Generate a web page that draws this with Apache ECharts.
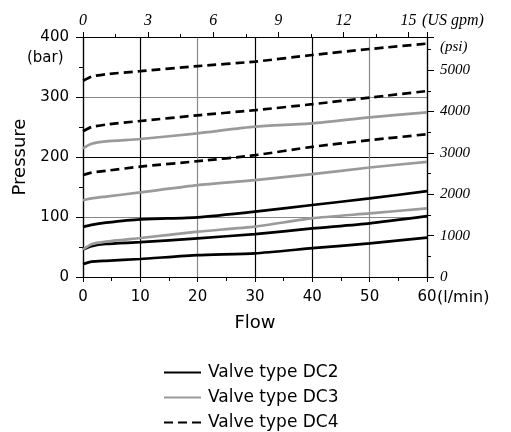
<!DOCTYPE html>
<html>
<head>
<meta charset="utf-8">
<script src="https://cdn.jsdelivr.net/npm/echarts@6/dist/echarts.min.js"></script>
<style>html,body{margin:0;padding:0;background:#fff;}#c{width:511px;height:432px;}</style>
</head>
<body>
<div id="c"></div>
<script>
// Flow (l/min) sample points
var flow = [0, 1.5, 4, 10, 20, 30, 40, 50, 60];
// Pressure (bar) curves
var dc2Low  = [21.5, 25.5, 27, 30, 36.5, 39.5, 48, 56, 65.5];
var dc2Mid  = [46, 51.5, 55, 58, 64.5, 71.5, 81, 89.5, 101.5];
var dc2High = [83.5, 87, 90.5, 96, 99.5, 109, 120, 131, 143];
var dc3Low  = [46, 54.5, 59, 65, 75.5, 84, 98, 106, 114.5];
var dc3Mid  = [128, 131, 134, 141, 153, 161.5, 171.5, 182.5, 192];
var dc3High = [214.5, 222, 226, 230, 239.5, 250.5, 256, 266, 274.5];
var dc4Low  = [170, 174, 177, 184, 193, 203, 217, 228, 238];
var dc4Mid  = [243, 250, 254, 260, 269.5, 278, 288, 299, 310];
var dc4High = [327, 334, 338, 343, 351.5, 359, 370, 380, 389];
var seriesNames = ['Valve type DC2', 'Valve type DC3', 'Valve type DC4'];

var FLOW_MAX = 60, BAR_MAX = 400;
var GPM_PER_LPM = 1 / 3.78541, PSI_PER_BAR = 14.5038;

function pts(ys) { return flow.map(function (x, i) { return [x, ys[i]]; }); }

var sans = 'DejaVu Sans';
var serif = 'Liberation Serif';

function mk(name, ys, type) {
  var gray = type === 'DC3';
  return {
    name: name, type: 'line', data: pts(ys), symbol: 'none',
    smooth: 0.2,
    xAxisIndex: 0, yAxisIndex: 0,
    lineStyle: { color: gray ? '#9a9a9a' : '#000', width: 2.7, type: type === 'DC4' ? [9, 5] : 'solid' },
    itemStyle: { color: gray ? '#9a9a9a' : '#000' },
    emphasis: { disabled: true }
  };
}

var chart = echarts.init(document.getElementById('c'), null, { renderer: 'canvas' });
chart.setOption({
  animation: false,
  backgroundColor: '#fff',
  grid: { left: 83, right: 84, top: 37, bottom: 155, containLabel: false },
  xAxis: [
    {
      type: 'value', position: 'bottom', min: 0, max: FLOW_MAX, interval: 10,
      axisLine: { show: true, lineStyle: { color: '#000', width: 1.2 } },
      axisTick: { show: true, length: 5, lineStyle: { color: '#000' } },
      minorTick: { show: true, splitNumber: 2, length: 4, lineStyle: { color: '#000' } },
      axisLabel: { margin: 13, color: '#000', fontFamily: sans, fontSize: 15 },
      splitLine: { show: true, lineStyle: { color: ['#000', '#000', '#888', '#000', '#000', '#888', '#000'], width: 1.2 } },
      name: 'Flow', nameLocation: 'middle', nameGap: 37,
      nameTextStyle: { color: '#000', fontFamily: sans, fontSize: 18 }
    },
    {
      type: 'value', position: 'top', min: 0, max: FLOW_MAX * GPM_PER_LPM, interval: 3,
      axisLine: { show: true, onZero: false, lineStyle: { color: '#000', width: 1.2 } },
      axisTick: { show: true, length: 5, lineStyle: { color: '#000' } },
      minorTick: { show: true, splitNumber: 2, length: 3, lineStyle: { color: '#000' } },
      axisLabel: {
        margin: 8, color: '#000', fontFamily: serif, fontStyle: 'italic', fontSize: 16,
        showMaxLabel: false,
        formatter: function (v) { return (Math.abs(v % 3) < 1e-6) ? String(v) : ''; }
      },
      splitLine: { show: false }
    }
  ],
  yAxis: [
    {
      type: 'value', position: 'left', min: 0, max: BAR_MAX, interval: 100,
      axisLine: { show: true, lineStyle: { color: '#000', width: 1.2 } },
      axisTick: { show: true, length: 7, lineStyle: { color: '#000' } },
      minorTick: { show: true, splitNumber: 2, length: 4, lineStyle: { color: '#000' } },
      axisLabel: { margin: 14, color: '#000', fontFamily: sans, fontSize: 15 },
      splitLine: { show: true, lineStyle: { color: ['#000', '#888', '#000', '#888', '#000'], width: 1.2 } },
      name: 'Pressure', nameLocation: 'middle', nameGap: 49,
      nameTextStyle: { color: '#000', fontFamily: sans, fontSize: 18 }
    },
    {
      type: 'value', position: 'right', min: 0, max: BAR_MAX * PSI_PER_BAR, interval: 1000,
      axisLine: { show: true, onZero: false, lineStyle: { color: '#000', width: 1.2 } },
      axisTick: { show: true, length: 7, lineStyle: { color: '#000' } },
      minorTick: { show: true, splitNumber: 2, length: 4, lineStyle: { color: '#000' } },
      axisLabel: {
        margin: 13, color: '#000', fontFamily: serif, fontStyle: 'italic', fontSize: 15,
        showMaxLabel: false,
        formatter: function (v) { return (Math.abs(v % 1000) < 1e-6) ? String(v) : ''; }
      },
      splitLine: { show: false }
    }
  ],
  legend: {
    orient: 'vertical', left: 163, top: 364, height: 100, padding: 0,
    itemWidth: 37, itemHeight: 14, itemGap: 8,
    data: seriesNames,
    itemStyle: { opacity: 0 },
    textStyle: { color: '#000', fontFamily: sans, fontSize: 17, lineHeight: 14, padding: [0, 0, 0, 2] },
    selectedMode: false
  },
  graphic: [
    { type: 'text', left: 27, top: 51, style: { text: '(bar)', fill: '#000', font: '15px "DejaVu Sans"' } },
    { type: 'text', left: 437, top: 290, style: { text: '(l/min)', fill: '#000', font: '16px "DejaVu Sans"' } },
    { type: 'text', left: 422, top: 13, style: { text: '(US gpm)', fill: '#000', font: 'italic 16px "Liberation Serif"' } },
    { type: 'text', left: 440, top: 40, style: { text: '(psi)', fill: '#000', font: 'italic 15px "Liberation Serif"' } }
  ],
  series: [
    mk(seriesNames[0], dc2Low, 'DC2'),
    mk(seriesNames[0], dc2Mid, 'DC2'),
    mk(seriesNames[0], dc2High, 'DC2'),
    mk(seriesNames[1], dc3Low, 'DC3'),
    mk(seriesNames[1], dc3Mid, 'DC3'),
    mk(seriesNames[1], dc3High, 'DC3'),
    mk(seriesNames[2], dc4Low, 'DC4'),
    mk(seriesNames[2], dc4Mid, 'DC4'),
    mk(seriesNames[2], dc4High, 'DC4')
  ]
});
</script>
</body>
</html>
